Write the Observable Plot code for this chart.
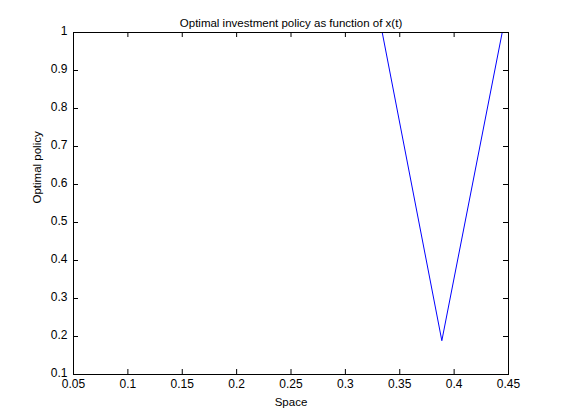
<!DOCTYPE html>
<html>
<head>
<meta charset="utf-8">
<script src="https://cdn.jsdelivr.net/npm/d3@7"></script>
<script src="https://cdn.jsdelivr.net/npm/@observablehq/plot@0.6"></script>
<style>
  html, body { margin: 0; padding: 0; background: #fff; }
</style>
</head>
<body>
<div id="chart"></div>
<script>
const space = [0.3339, 0.3887, 0.4442];
const policy = [1.0, 0.189, 1.0];
const xTicks = [0.05, 0.1, 0.15, 0.2, 0.25, 0.3, 0.35, 0.4, 0.45];
const yTicks = [0.1, 0.2, 0.3, 0.4, 0.5, 0.6, 0.7, 0.8, 0.9, 1];
const titleText = "Optimal investment policy as function of x(t)";
const xLabel = "Space";
const yLabel = "Optimal policy";

const W = 561, H = 420;
const mL = 73, mR = 53, mT = 32, mB = 46;
const plotH = H - mT - mB, plotW = W - mL - mR;
const tick = 5;
const data = space.map((x, i) => ({x, y: policy[i]}));
const font = "Helvetica, Arial, 'Liberation Sans', sans-serif";
const fmt = d => String(Math.round(d * 100) / 100);

const chart = Plot.plot({
  width: W, height: H,
  marginLeft: mL, marginRight: mR, marginTop: mT, marginBottom: mB,
  style: {fontFamily: font, fontSize: "11px", background: "#fff", color: "#000"},
  x: {domain: [0.05, 0.45]},
  y: {domain: [0.1, 1]},
  marks: [
    Plot.line(data, {x: "x", y: "y", stroke: "#0000ff", strokeWidth: 1, clip: true}),
    Plot.frame({stroke: "#000", strokeWidth: 1}),
    // inward ticks on all four sides
    Plot.ruleX(xTicks, {x: d => d, insetTop: plotH - tick, stroke: "#000"}),
    Plot.ruleX(xTicks, {x: d => d, insetBottom: plotH - tick, stroke: "#000"}),
    Plot.ruleY(yTicks, {y: d => d, insetRight: plotW - tick, stroke: "#000"}),
    Plot.ruleY(yTicks, {y: d => d, insetLeft: plotW - tick, stroke: "#000"}),
    Plot.axisX(xTicks, {tickSize: 0, tickPadding: 5, label: null, fontSize: 12, tickFormat: fmt}),
    Plot.axisY(yTicks, {tickSize: 0, tickPadding: 6, label: null, fontSize: 12, tickFormat: fmt, dy: -1}),
    Plot.text([titleText], {frameAnchor: "top", dy: -14, fontSize: 11.5, text: d => d}),
    Plot.text([xLabel], {frameAnchor: "bottom", dy: 31, fontSize: 11.5, text: d => d}),
    Plot.text([yLabel], {frameAnchor: "left", dx: -36, rotate: -90, fontSize: 11.5, text: d => d})
  ]
});
document.getElementById("chart").appendChild(chart);
</script>
</body>
</html>
